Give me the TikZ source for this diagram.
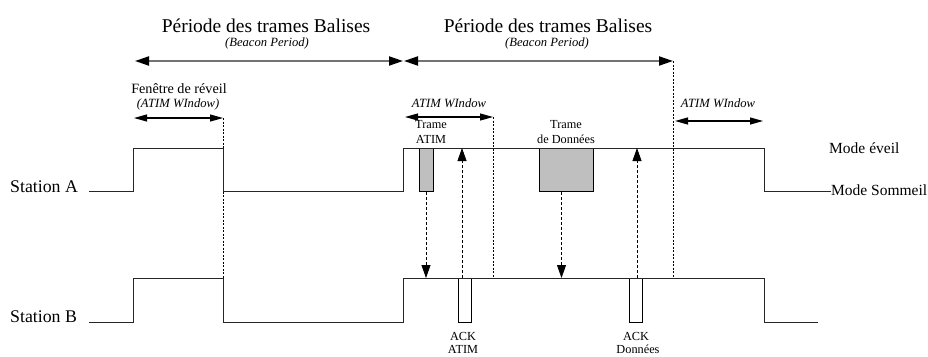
\documentclass[tikz,border=0pt]{standalone}
\usepackage{fontspec}
\setmainfont{Liberation Serif}
\usetikzlibrary{arrows.meta}
\begin{document}
\begin{tikzpicture}[x=1pt,y=-1pt,
  wave/.style={line width=0.9pt, black!85},
  period/.style={line width=2pt, black!55,
    {Triangle[length=14pt,width=9pt,black]}-{Triangle[length=14pt,width=9pt,black]}},
  window/.style={line width=1.2pt, black,
    {Triangle[length=13pt,width=7pt]}-{Triangle[length=13pt,width=7pt]}},
  bound/.style={line width=0.7pt, dash pattern=on 2pt off 1.5pt},
  msg/.style={line width=0.8pt, dash pattern=on 3pt off 2pt,
    -{Triangle[length=13pt,width=9pt]}},
  framebox/.style={draw, line width=0.8pt, fill=black!25, inner sep=0pt,
    anchor=north, minimum width=14pt, minimum height=43pt},
  ackbox/.style={framebox, fill=white, minimum width=13pt, minimum height=44pt},
  lbl/.style={inner sep=0pt, anchor=base},
  title/.style={lbl, font=\fontsize{19.5}{22}\selectfont},
  sub/.style={lbl, font=\fontsize{12.6}{14}\selectfont\itshape},
  small/.style={lbl, font=\fontsize{12.3}{14}\selectfont},
  station/.style={lbl, anchor=base west, font=\fontsize{17.8}{20}\selectfont},
  mode/.style={lbl, anchor=base west, font=\fontsize{15.5}{18}\selectfont},
]
\useasboundingbox (0,0) rectangle (928,356);

% levels of the two stations
\coordinate (ahigh) at (0,148);
\coordinate (bhigh) at (0,278);

% titles of the beacon periods
\node[title] (t1) at (266,32) {Période des trames Balises};
\node[sub]   (s1) at (267,46) {(Beacon Period)};
\node[title] (t2) at (548,32) {Période des trames Balises};
\node[sub]   (s2) at (547,46) {(Beacon Period)};

% beacon period arrows
\coordinate (p0) at (135,61);
\coordinate (p1) at (403,61);
\coordinate (p2) at (404,61);
\coordinate (p3) at (673,61);
\draw[period] (p0) -- (p1);
\draw[period] (p2) -- (p3);

% ATIM windows
\node[small, font=\fontsize{14.2}{16}\selectfont] (fen) at (179,93) {Fenêtre de réveil};
\node[sub] (aw1) at (178,107) {(ATIM WIndow)};
\node[sub] (aw2) at (449,107) {ATIM WIndow};
\node[sub] (aw3) at (718,107) {ATIM WIndow};
\coordinate (w1a) at (134,118); \coordinate (w1b) at (223,118);
\coordinate (w2a) at (405,117); \coordinate (w2b) at (493,117);
\coordinate (w3a) at (675,121); \coordinate (w3b) at (763,121);
\draw[window] (w1a) -- (w1b);
\draw[window] (w2a) -- (w2b);
\draw[window] (w3a) -- (w3b);

% window boundaries
\draw[bound] (w1b) -- (w1b |- bhigh);
\draw[bound] (w2b) -- (w2b |- bhigh);
\draw[bound] (p3) -- (p3 |- bhigh);

% station labels and state labels
\node[station] (sa) at (10,192) {Station A};
\node[station] (sb) at (10,322) {Station B};
\node[mode] (eveil) at (829,153) {Mode éveil};
\node[mode] (sommeil) at (831,195) {Mode Sommeil};

% frames sent by station A
\node[framebox] (fa) at (426,148) {};
\node[framebox, minimum width=54pt] (fd) at (566,148) {};
\node[small] (fa1) at (431,128) {Trame};
\node[small] (fa2) at (431,143) {ATIM};
\node[small] (fd1) at (566,128) {Trame};
\node[small] (fd2) at (566,143) {de Données};

% acknowledgements sent by station B
\node[ackbox] (ka) at (464.5,278) {};
\node[ackbox] (kd) at (635.5,278) {};
\node[small] (ka1) at (463,340) {ACK};
\node[small] (ka2) at (463,353) {ATIM};
\node[small] (kd1) at (636,340) {ACK};
\node[small] (kd2) at (638,353) {Données};

% station A state
\draw[wave] (89,191) -- (133,191) -- (133,148) -- (223,148) -- (223,191)
  -- (403,191) -- (403,148) -- (764,148) -- (764,191) -- (sommeil.west |- 0,191);
% station B state
\draw[wave] (89,322) -- (133,322) -- (133,278) -- (223,278) -- (223,322)
  -- (403,322) -- (403,278) -- (764,278) -- (764,322) -- (818,322);

% message exchanges
\draw[msg] (fa.south) -- (fa.south |- bhigh);
\draw[msg] ([xshift=-4.5pt]fd.south) -- ([xshift=-4.5pt]fd.south |- bhigh);
\draw[msg] ([xshift=-2.5pt]ka.north) -- ([xshift=-2.5pt]ka.north |- ahigh);
\draw[msg] ([xshift=1.5pt]kd.north) -- ([xshift=1.5pt]kd.north |- ahigh);
\end{tikzpicture}
\end{document}
